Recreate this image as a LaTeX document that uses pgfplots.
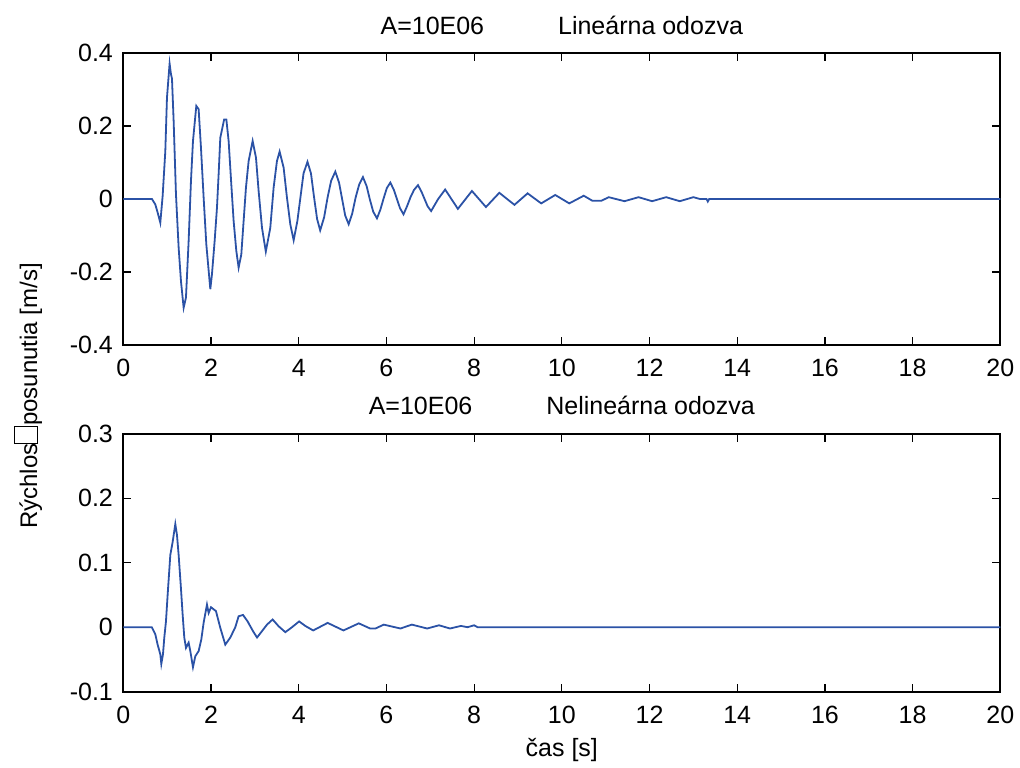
\documentclass[12pt,border=0pt]{standalone}
\usepackage{pgfplots}
\pgfplotsset{compat=1.18}
\usepackage{fontspec}
\setmainfont{Liberation Sans}
\definecolor{mblue}{RGB}{43,82,166}

% top: linear response
\pgfplotstableread{
t v
0 0
0.654 0
0.730 -0.015
0.783 -0.037
0.844 -0.065
0.897 0.008
0.958 0.131
0.996 0.278
1.056 0.371
1.087 0.342
1.110 0.330
1.148 0.214
1.201 0.013
1.262 -0.133
1.315 -0.225
1.376 -0.298
1.429 -0.270
1.490 -0.115
1.543 0.049
1.589 0.159
1.665 0.255
1.718 0.246
1.771 0.141
1.832 0.004
1.893 -0.124
1.984 -0.247
2.022 -0.206
2.083 -0.115
2.136 -0.024
2.174 0.068
2.212 0.168
2.300 0.218
2.350 0.218
2.402 0.159
2.463 0.040
2.516 -0.060
2.577 -0.142
2.630 -0.188
2.691 -0.152
2.744 -0.060
2.797 0.031
2.858 0.104
2.950 0.159
3.026 0.113
3.086 0.022
3.163 -0.079
3.250 -0.144
3.352 -0.079
3.428 0.031
3.504 0.104
3.565 0.130
3.656 0.086
3.732 0.004
3.808 -0.069
3.885 -0.113
3.970 -0.060
4.040 0.005
4.110 0.070
4.200 0.102
4.280 0.070
4.350 0.005
4.420 -0.055
4.490 -0.086
4.580 -0.050
4.660 0.005
4.740 0.050
4.835 0.075
4.920 0.045
4.990 0.000
5.060 -0.045
5.140 -0.069
5.220 -0.040
5.300 0.005
5.380 0.040
5.465 0.060
5.550 0.035
5.620 0.000
5.700 -0.035
5.785 -0.053
5.860 -0.030
5.940 0.003
6.010 0.030
6.090 0.045
6.170 0.025
6.240 0.000
6.310 -0.025
6.390 -0.042
6.470 -0.020
6.550 0.005
6.630 0.025
6.720 0.038
6.800 0.020
6.870 0.000
6.940 -0.020
7.020 -0.033
7.180 0.000
7.340 0.026
7.630 -0.027
7.950 0.022
8.270 -0.022
8.575 0.017
8.920 -0.016
9.220 0.0155
9.530 -0.012
9.850 0.011
10.170 -0.012
10.500 0.009
10.700 -0.005
10.900 -0.005
11.070 0.005
11.430 -0.006
11.750 0.005
12.060 -0.006
12.380 0.005
12.690 -0.006
13.000 0.005
13.150 0.000
13.300 0.000
13.330 -0.007
13.360 0.000
20 0
}\linresp

% bottom: nonlinear response
\pgfplotstableread{
t v
0 0
0.650 0
0.730 -0.011
0.783 -0.027
0.844 -0.042
0.867 -0.057
0.905 -0.042
0.935 -0.016
0.973 0.009
1.011 0.050
1.072 0.112
1.125 0.132
1.186 0.160
1.224 0.143
1.262 0.112
1.315 0.060
1.353 0.020
1.391 -0.016
1.429 -0.032
1.490 -0.024
1.528 -0.037
1.589 -0.062
1.642 -0.045
1.718 -0.037
1.779 -0.019
1.832 0.007
1.908 0.035
1.946 0.022
2.000 0.031
2.113 0.025
2.212 -0.001
2.326 -0.027
2.440 -0.016
2.554 0.000
2.630 0.017
2.730 0.019
2.835 0.009
2.957 -0.006
3.050 -0.016
3.277 0.004
3.405 0.012
3.542 0.0015
3.695 -0.0077
3.847 0.000
4.010 0.009
4.150 0.002
4.330 -0.005
4.660 0.0067
5.020 -0.005
5.370 0.006
5.630 -0.002
5.750 -0.002
5.940 0.004
6.320 -0.002
6.580 0.004
6.930 -0.002
7.200 0.003
7.450 -0.002
7.700 0.002
7.850 0.000
8.000 0.003
8.080 0.000
20 0
}\nonlinresp

\pgfplotsset{mstyle/.style={
  scale only axis, width=438.5pt,
  xmin=0, xmax=20, xtick={0,2,...,20},
  tick pos=both, tick align=inside, major tick length=4pt,
  axis line style={line width=1pt},
  major tick style={line width=0.6pt, black},
  /pgf/number format/assume math mode=true,
  xticklabel style={anchor=base, yshift=-15.7pt},
  yticklabel style={xshift=-0.85pt},
  title style={at={(0.5,1)}, anchor=base, yshift=3.4pt},
  no markers,
}}

\begin{document}
\fontsize{12.5}{15}\selectfont
\begin{tikzpicture}
\path[use as bounding box] (0,0) rectangle (510pt,383.5pt);

\begin{axis}[mstyle, at={(61.65pt,211pt)}, anchor=south west, height=146pt,
  ymin=-0.4, ymax=0.4, ytick={-0.4,-0.2,0,0.2,0.4},
  yticklabels={-0.4,-0.2,0,0.2,0.4},
  title={A=10E06\hspace{37pt}Lineárna odozva}]
\addplot[mblue, line width=0.9pt] table[x=t, y=v] {\linresp};
\end{axis}

\begin{axis}[mstyle, at={(61.65pt,37.65pt)}, anchor=south west, height=129pt,
  ymin=-0.1, ymax=0.3, ytick={-0.1,0,0.1,0.2,0.3},
  yticklabels={-0.1,0,0.1,0.2,0.3},
  title={A=10E06\hspace{37pt}Nelineárna odozva},
  xlabel={čas [s]},
  xlabel style={at={(axis description cs:0.5,0)}, anchor=base, yshift=-32.2pt}]
\addplot[mblue, line width=0.9pt] table[x=t, y=v] {\nonlinresp};
\end{axis}

\node[rotate=90, anchor=base, font=\fontsize{12}{14}\selectfont] at (18.5pt,185.5pt)
  {Rýchlos{\fboxsep=0pt\fboxrule=0.5pt\fbox{\rule{0pt}{0.9em}\hspace{0.65em}}}posunutia [m/s]};
\end{tikzpicture}
\end{document}
